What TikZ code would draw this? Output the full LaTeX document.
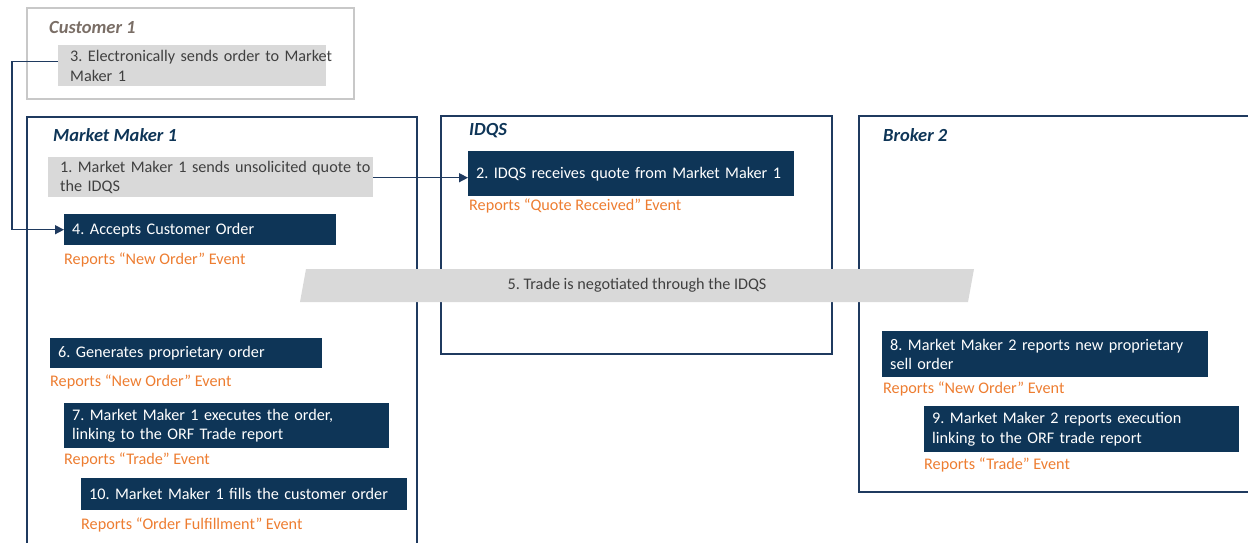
\documentclass[tikz,border=0pt]{standalone}
\usepackage{fontspec}
\setmainfont{Carlito}
\usetikzlibrary{arrows.meta}
\definecolor{navy}{HTML}{0E3557}
\definecolor{frame}{HTML}{1F3A5F}
\definecolor{gfill}{HTML}{D9D9D9}
\definecolor{gtext}{HTML}{404040}
\definecolor{orng}{HTML}{ED7D31}
\definecolor{custc}{HTML}{7A6E66}
\definecolor{custframe}{HTML}{C8C8C8}
\frenchspacing
\begin{document}
\begin{tikzpicture}[x=1pt,y=-1pt,
 every node/.style={font=\fontsize{16.2}{19.5}\selectfont},
 navybox/.style={fill=navy,text=white,anchor=north west,inner xsep=8pt,inner ysep=0pt,align=left},
 graybox/.style={fill=gfill,text=gtext,anchor=north west,inner xsep=12pt,inner ysep=0pt,align=left},
 rep/.style={text=orng,anchor=west,inner sep=0pt},
 ttl/.style={font=\fontsize{18.5}{20}\selectfont\bfseries\itshape,anchor=west,inner sep=0pt},
 frm/.style={draw=frame,line width=1.6pt},
 arr/.style={draw=frame,line width=1.5pt,-{Triangle[length=9pt,width=9pt]}}]
\useasboundingbox (0,0) rectangle (1248,542);
\clip (0,0) rectangle (1248,542);
% frames
\draw[draw=custframe,line width=1.6pt] (27,8) rectangle (354,99);
\draw[frm] (27,117) rectangle (417,560);
\draw[frm] (441,116) rectangle (832,354);
\draw[frm] (859,116) rectangle (1260,492);
% titles
\node[ttl,text=custc] (tcust) at (49,27) {Customer 1};
\node[ttl,text=navy] (tmm1) at (53,135) {Market Maker 1};
\node[ttl,text=navy] (tidqs) at (469,131) {IDQS};
\node[ttl,text=navy] (tbrk) at (883,135) {Broker 2};
% band 5
\fill[gfill] (306,269) -- (974,269) -- (968,302) -- (300,302) -- cycle;
\node[text=gtext] (s5) at (637,285.5) {5. Trade is negotiated through the IDQS};
% boxes
\node[graybox,minimum width=268pt,minimum height=41pt,text width=244pt] (s3) at (58,45) {\mbox{3. Electronically sends order to Market}\\Maker 1};
\node[graybox,minimum width=325pt,minimum height=40pt,text width=301pt] (s1) at (48,157) {\mbox{1. Market Maker 1 sends unsolicited quote to}\\the IDQS};
\node[navybox,minimum width=272pt,minimum height=31pt,text width=256pt] (s4) at (64,214) {4. Accepts Customer Order};
\node[navybox,minimum width=326pt,minimum height=45pt,text width=310pt] (s2) at (468,151) {2. IDQS receives quote from Market Maker 1};
\node[navybox,minimum width=272pt,minimum height=30pt,text width=256pt] (s6) at (50,338) {6. Generates proprietary order};
\node[navybox,minimum width=325pt,minimum height=45pt,text width=309pt] (s7) at (64,403) {7. Market Maker 1 executes the order,\\linking to the ORF Trade report};
\node[navybox,minimum width=326pt,minimum height=32pt,text width=310pt] (s10) at (81,478) {10. Market Maker 1 fills the customer order};
\node[navybox,minimum width=326pt,minimum height=46pt,text width=310pt] (s8) at (882,331) {8. Market Maker 2 reports new proprietary\\sell order};
\node[navybox,minimum width=315pt,minimum height=46pt,text width=299pt] (s9) at (924,406) {9. Market Maker 2 reports execution\\linking to the ORF trade report};
% report labels
\node[rep] (r4) at (64,260) {Reports “New Order” Event};
\node[rep] (r2) at (469,206) {Reports “Quote Received” Event};
\node[rep] (r6) at (50,382) {Reports “New Order” Event};
\node[rep] (r7) at (64,460) {Reports “Trade” Event};
\node[rep] (r10) at (81,525) {Reports “Order Fulfillment” Event};
\node[rep] (r8) at (883,389) {Reports “New Order” Event};
\node[rep] (r9) at (924,465) {Reports “Trade” Event};
% connectors
\coordinate (c3) at ([yshift=4pt]s3.west);
\draw[arr] (c3) -- ++(-46,0) |- (s4.west);
\coordinate (c1) at ([yshift=-0.5pt]s1.east);
\draw[arr] (c1) -- (c1 -| s2.west);
\end{tikzpicture}
\end{document}
